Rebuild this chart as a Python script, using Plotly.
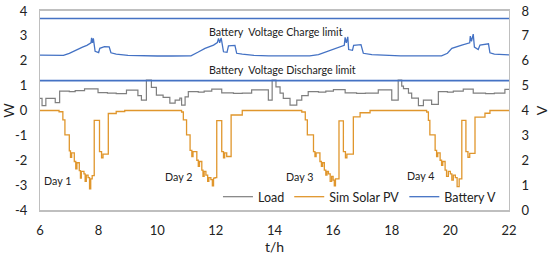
import plotly.graph_objects as go

# time axis (hours) and values
pv_t = [6.0, 6.65, 6.78, 6.85, 7.0, 7.04, 7.08, 7.17, 7.22, 7.26, 7.34, 7.38, 7.41, 7.5, 7.54, 7.58, 7.64, 7.69, 7.73, 7.78, 7.85,
        8.03, 8.1, 8.15, 8.33, 8.6, 8.89,
        10.83, 10.89, 11.0, 11.12, 11.18, 11.22, 11.35, 11.4, 11.44, 11.52, 11.56, 11.6, 11.66, 11.72, 11.76, 11.83, 11.88, 11.92, 11.97,
        12.03, 12.2, 12.26, 12.3, 12.37, 12.52, 12.9,
        14.93, 15.05, 15.12, 15.33, 15.38, 15.42, 15.55, 15.6, 15.64, 15.7, 15.75, 15.79, 15.84, 15.9, 15.95, 16.0, 16.04, 16.08,
        16.2, 16.35, 16.42, 16.47, 16.69, 16.92, 17.26,
        19.19, 19.25, 19.3, 19.48, 19.53, 19.57, 19.65, 19.7, 19.74, 19.82, 19.87, 19.93, 20.0, 20.05, 20.1, 20.17, 20.23, 20.3,
        20.39, 20.53, 20.6, 20.66, 20.84, 21.18, 21.35, 22.0]
pv_w = [0, -0.05, -0.38, -0.98, -1.62, -1.88, -1.7, -2.05, -2.35, -2.1, -2.42, -2.72, -2.45, -2.55, -2.85, -2.6, -2.7, -3.15, -2.75, -2.62, -0.4,
        -1.65, -1.9, -1.75, -0.12, -0.04, 0,
        -0.06, -0.38, -0.98, -1.6, -1.85, -1.65, -2.0, -2.25, -2.05, -2.4, -2.65, -2.45, -2.6, -2.85, -2.7, -2.78, -3.03, -2.72, -2.7,
        -0.41, -1.65, -1.9, -1.7, -1.85, -0.18, 0,
        -0.06, -0.38, -0.98, -1.65, -1.85, -1.7, -2.05, -2.25, -2.1, -2.4, -2.6, -2.45, -2.55, -2.85, -2.65, -2.8, -3.03, -2.75,
        -0.42, -1.65, -1.9, -1.75, -0.26, -0.09, 0,
        -0.06, -0.4, -0.98, -1.6, -1.85, -1.7, -2.0, -2.2, -2.05, -2.4, -2.65, -2.45, -2.55, -2.8, -2.6, -2.7, -3.06, -2.75,
        -0.4, -1.65, -1.88, -1.72, -0.27, -0.11, 0, 0]

load_t = [6.0, 6.07, 6.2, 6.52, 6.67, 7.0, 7.2, 7.52, 7.98, 8.3, 8.6, 8.95, 9.34, 9.46, 9.63, 9.8, 9.97, 10.2, 10.43, 10.61, 10.77, 10.83, 10.95,
          11.06, 11.4, 11.6, 11.86, 12.2, 12.6, 12.9, 13.22, 13.79, 13.92, 14.05, 14.19, 14.3, 14.53, 14.76, 14.93,
          15.15, 15.5, 15.75, 16.01, 16.41, 16.8, 17.1, 17.54, 18.0, 18.22, 18.34, 18.4, 18.57, 18.68, 18.91, 19.08, 19.36,
          19.59, 19.9, 20.1, 20.44, 20.78, 21.2, 21.5, 21.86, 22.0]
load_w = [0.49, 0.2, 0.49, 0.32, 0.78, 0.76, 0.8, 0.87, 0.72, 0.7, 0.68, 0.82, 0.6, 0.42, 1.22, 0.93, 0.62, 0.53, 0.3, 0.42, 0.5, 0.22, 0.55,
          0.76, 0.74, 0.78, 0.86, 0.71, 0.69, 0.7, 0.83, 0.42, 1.22, 0.95, 0.7, 0.49, 0.22, 0.42, 0.6,
          0.76, 0.74, 0.78, 0.84, 0.71, 0.69, 0.7, 0.83, 0.42, 1.22, 0.98, 0.88, 0.7, 0.5, 0.2, 0.42, 0.25,
          0.76, 0.74, 0.78, 0.86, 0.7, 0.68, 0.7, 0.85, 0.85]

batt_t = [6.0, 6.3, 6.6, 6.8, 7.0, 7.25, 7.45, 7.6, 7.7, 7.74, 7.76, 7.79, 7.82, 7.85, 7.88, 8.0, 8.04, 8.2, 8.36, 8.42, 8.6, 9.0, 9.5, 10.0, 10.5, 11.0,
          11.15, 11.4, 11.63, 11.92, 12.05, 12.09, 12.13, 12.18, 12.22, 12.26, 12.38, 12.43, 12.65, 12.71, 12.9, 13.3, 13.8, 14.3, 14.8, 15.2,
          15.5, 15.95, 16.29, 16.38, 16.41, 16.45, 16.5, 16.53, 16.66, 16.7, 16.95, 17.03, 17.32, 17.8, 18.3, 18.8, 19.3, 19.7,
          19.9, 20.05, 20.39, 20.56, 20.66, 20.68, 20.72, 20.78, 20.82, 20.95, 21.01, 21.3, 21.35, 21.5, 22.0]
batt_v = [6.23, 6.22, 6.22, 6.22, 6.3, 6.45, 6.55, 6.62, 6.68, 6.72, 6.92, 6.72, 6.9, 6.7, 6.38, 6.33, 6.5, 6.57, 6.56, 6.32, 6.27, 6.22, 6.2, 6.19, 6.19, 6.18,
          6.2, 6.35, 6.5, 6.63, 6.73, 6.9, 6.72, 6.92, 6.7, 6.36, 6.34, 6.6, 6.62, 6.3, 6.27, 6.22, 6.2, 6.19, 6.19, 6.2,
          6.25, 6.43, 6.56, 6.62, 6.94, 6.72, 6.96, 6.45, 6.42, 6.62, 6.65, 6.3, 6.25, 6.22, 6.2, 6.2, 6.19, 6.2,
          6.3, 6.5, 6.63, 6.7, 6.72, 6.99, 6.78, 7.07, 6.55, 6.45, 6.63, 6.68, 6.32, 6.27, 6.24]

charge_limit_v = 7.7
discharge_limit_v = 5.2

x_ticks = [6, 8, 10, 12, 14, 16, 18, 20, 22]
w_ticks = [-4, -3, -2, -1, 0, 1, 2, 3, 4]
w_tick_text = ['-4', '-3', '-2', '-1', '0', '1', '2', '3', '4']
v_ticks = [0, 1, 2, 3, 4, 5, 6, 7, 8]

day_labels = ['Day 1', 'Day 2', 'Day 3', 'Day 4']
day_x = [6.58, 10.71, 14.85, 18.98]
day_y = [-2.83, -2.67, -2.66, -2.62]

FONT = 'Lato, Calibri, sans-serif'
BLUE = '#4472C4'
ORANGE = '#E0962C'
GRAY = '#7F7F7F'
AXIS = '#BFBFBF'

fig = go.Figure()

for lim in [charge_limit_v, discharge_limit_v]:
    fig.add_trace(go.Scatter(x=[x_ticks[0], x_ticks[-1]], y=[lim, lim], mode='lines', yaxis='y2',
                             line=dict(color=BLUE, width=1.6), showlegend=False, hoverinfo='skip'))

fig.add_trace(go.Scatter(x=load_t, y=load_w, name='Load', mode='lines', line=dict(color=GRAY, width=1.2, shape='hv')))
fig.add_trace(go.Scatter(x=pv_t, y=pv_w, name='Sim Solar PV', mode='lines', line=dict(color=ORANGE, width=1.3, shape='hv')))
fig.add_trace(go.Scatter(x=batt_t, y=batt_v, name='Battery V', mode='lines', yaxis='y2', line=dict(color=BLUE, width=1.3)))

fig.add_annotation(x=14.05, y=3.19, text='Battery  Voltage Charge limit', showarrow=False, font=dict(size=10.7))
fig.add_annotation(x=14.26, y=1.63, text='Battery  Voltage Discharge limit', showarrow=False, font=dict(size=10.7))
for lbl, dx, dy in zip(day_labels, day_x, day_y):
    fig.add_annotation(x=dx, y=dy, text=lbl, showarrow=False, font=dict(size=10.7))

fig.update_layout(
    width=550, height=255,
    margin=dict(l=40, r=41, t=11, b=45),
    paper_bgcolor='white', plot_bgcolor='white',
    font=dict(family=FONT, size=13, color='#222'),
    xaxis=dict(range=[6, 22], tickvals=x_ticks, showgrid=False, zeroline=False, automargin=False,
               showline=True, linecolor=AXIS, linewidth=1.5, mirror=True, ticks='', ticklabelstandoff=8,
               ticklabeloverflow='allow', title=dict(text='t/h', standoff=2, font=dict(size=14))),
    yaxis=dict(range=[-4, 4], tickvals=w_ticks, ticktext=w_tick_text, showgrid=False, zeroline=False, automargin=False,
               showline=True, linecolor=AXIS, linewidth=1, ticks='', ticklabelstandoff=9,
               ticklabeloverflow='allow', title=dict(text='W', standoff=16, font=dict(size=14))),
    yaxis2=dict(range=[0, 8], tickvals=v_ticks, overlaying='y', side='right', showgrid=False, zeroline=False, automargin=False,
                showline=True, linecolor=AXIS, linewidth=1, ticks='', ticklabelstandoff=9,
                ticklabeloverflow='allow', title=dict(text='V', standoff=9, font=dict(size=14))),
    legend=dict(orientation='h', x=0.985, xanchor='right', y=0.065, yanchor='middle',
                bgcolor='rgba(0,0,0,0)', font=dict(size=12.5), itemwidth=30, tracegroupgap=0),
)

# drop the default 8px body margin so the 550x255 figure fills the window
fig.write_html('out.html', config={'displayModeBar': False},
               post_script="document.body.style.margin='0';")
